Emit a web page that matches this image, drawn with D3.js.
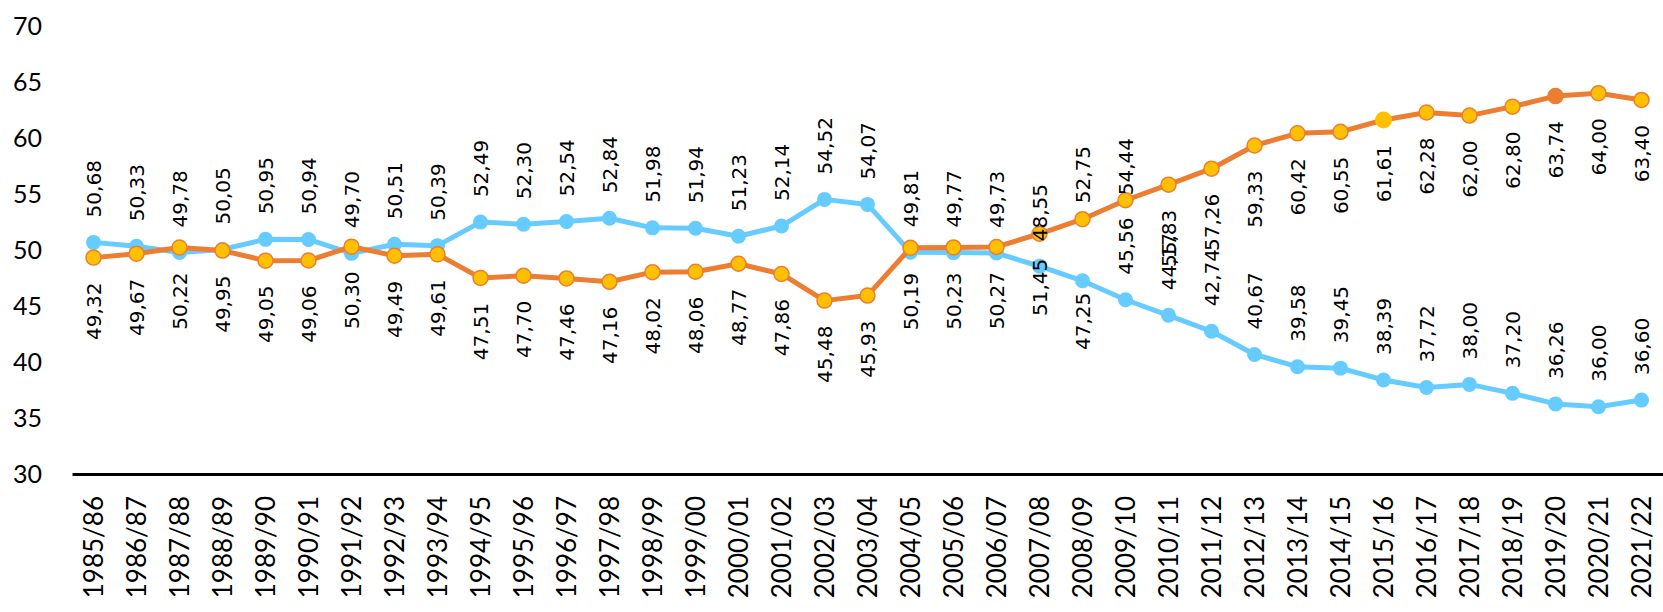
<!DOCTYPE html>
<html>
<head>
<meta charset="utf-8">
<script src="https://cdn.jsdelivr.net/npm/d3@7"></script>
<style>
    body { margin: 0; background: #ffffff; }
    svg { display: block; }
</style>
</head>
<body>
<script>
//Chart data.
const seasons = ["1985/86", "1986/87", "1987/88", "1988/89", "1989/90", "1990/91", "1991/92", "1992/93", "1993/94",
    "1994/95", "1995/96", "1996/97", "1997/98", "1998/99", "1999/00", "2000/01", "2001/02", "2002/03", "2003/04",
    "2004/05", "2005/06", "2006/07", "2007/08", "2008/09", "2009/10", "2010/11", "2011/12", "2012/13", "2013/14",
    "2014/15", "2015/16", "2016/17", "2017/18", "2018/19", "2019/20", "2020/21", "2021/22"];

const blueValues = [50.68, 50.33, 49.78, 50.05, 50.95, 50.94, 49.70, 50.51, 50.39,
    52.49, 52.30, 52.54, 52.84, 51.98, 51.94, 51.23, 52.14, 54.52, 54.07,
    49.81, 49.77, 49.73, 48.55, 47.25, 45.56, 44.17, 42.74, 40.67, 39.58,
    39.45, 38.39, 37.72, 38.00, 37.20, 36.26, 36.00, 36.60];

const orangeValues = [49.32, 49.67, 50.22, 49.95, 49.05, 49.06, 50.30, 49.49, 49.61,
    47.51, 47.70, 47.46, 47.16, 48.02, 48.06, 48.77, 47.86, 45.48, 45.93,
    50.19, 50.23, 50.27, 51.45, 52.75, 54.44, 55.83, 57.26, 59.33, 60.42,
    60.55, 61.61, 62.28, 62.00, 62.80, 63.74, 64.00, 63.40];

const yTicks = [30, 35, 40, 45, 50, 55, 60, 65, 70];

//Constants for the structure of the SVG.
const width = 1663;
const height = 612;
const margin = {top: 26, right: 0, bottom: 138, left: 72};

const colors = {blue: "#66ccff", orange: "#ed7d31", yellow: "#ffc000"};

//Numbers are printed with a decimal comma.
const locale = d3.formatLocale({decimal: ",", thousands: ".", grouping: [3], currency: ["", ""]});
const fmt = locale.format(".2f");

const svg = d3.select("body").append("svg").attr("width", width).attr("height", height);

const xScale = d3.scaleBand().domain(seasons).range([margin.left, width - margin.right]);
const yScale = d3.scaleLinear().domain([30, 70]).range([height - margin.bottom, margin.top]);
const cx = (i) => xScale(seasons[i]) + xScale.bandwidth() / 2;

//Y-Axis, labels only.
const yAxis = d3.axisLeft(yScale).tickValues(yTicks).tickSize(0).tickPadding(30).tickFormat(d3.format("d"));
const gy = svg.append("g")
    .attr("transform", "translate(" + margin.left + ",0)")
    .call(yAxis);
gy.select(".domain").remove();
gy.selectAll("text")
    .attr("font-family", "Lato, 'Open Sans', sans-serif")
    .attr("font-size", 25)
    .attr("fill", "#000");

//X-Axis with rotated season labels.
const xAxis = d3.axisBottom(xScale).tickSize(0).tickSizeOuter(0);
const gx = svg.append("g")
    .attr("transform", "translate(0," + (height - margin.bottom) + ")")
    .call(xAxis);
gx.select(".domain").attr("stroke", "#000").attr("stroke-width", 3);
gx.selectAll("text")
    .attr("font-family", "Lato, 'Open Sans', sans-serif")
    .attr("font-size", 26)
    .attr("fill", "#000")
    .attr("text-anchor", "end")
    .attr("transform", "rotate(-90)")
    .attr("x", -22)
    .attr("y", 0)
    .attr("dy", "0.36em");

const line = d3.line()
    .x((d, i) => cx(i))
    .y((d) => yScale(d));

//Blue series first, orange drawn over it.
svg.append("path")
    .datum(blueValues)
    .attr("fill", "none")
    .attr("stroke", colors.blue)
    .attr("stroke-width", 5)
    .attr("stroke-linejoin", "round")
    .attr("d", line);

svg.selectAll(".dot-blue")
    .data(blueValues)
    .enter()
    .append("circle")
    .attr("class", "dot-blue")
    .attr("cx", (d, i) => cx(i))
    .attr("cy", (d) => yScale(d))
    .attr("r", 7.5)
    .attr("fill", colors.blue);

svg.append("path")
    .datum(orangeValues)
    .attr("fill", "none")
    .attr("stroke", colors.orange)
    .attr("stroke-width", 5)
    .attr("stroke-linejoin", "round")
    .attr("d", line);

//A couple of markers were styled by hand in the original.
svg.selectAll(".dot-orange")
    .data(orangeValues)
    .enter()
    .append("circle")
    .attr("class", "dot-orange")
    .attr("cx", (d, i) => cx(i))
    .attr("cy", (d) => yScale(d))
    .attr("r", (d, i) => seasons[i] === "2015/16" ? 8.5 : 7.5)
    .attr("fill", (d, i) => seasons[i] === "2019/20" ? colors.orange : colors.yellow)
    .attr("stroke", (d, i) => seasons[i] === "2015/16" ? "none" : colors.orange)
    .attr("stroke-width", 1.5);

//Label placement: blue above, orange below, except the hand-moved ones.
function labelPlace(series, i) {
    if (series === "blue" && seasons[i] === "2008/09") return {side: "below", gap: 12};
    if (series === "orange" && seasons[i] === "2008/09") return {side: "above", gap: 16};
    if (series === "orange" && seasons[i] === "2009/10") return {side: "above", gap: 5};
    return {side: series === "blue" ? "above" : "below", gap: 25};
}

function drawLabels(values, series) {
    svg.selectAll(".label-" + series)
        .data(values)
        .enter()
        .append("text")
        .attr("class", "label-" + series)
        .attr("font-family", "'DejaVu Sans', Verdana, sans-serif")
        .attr("font-size", 20)
        .attr("fill", "#000")
        .attr("transform", (d, i) => {
            let p = labelPlace(series, i);
            let y = p.side === "above" ? yScale(d) - p.gap : yScale(d) + p.gap;
            return "translate(" + cx(i) + "," + y + ") rotate(-90)";
        })
        .attr("text-anchor", (d, i) => labelPlace(series, i).side === "above" ? "start" : "end")
        .attr("dy", "0.36em")
        .text((d) => fmt(d));
}

drawLabels(blueValues, "blue");
drawLabels(orangeValues, "orange");
</script>
</body>
</html>
